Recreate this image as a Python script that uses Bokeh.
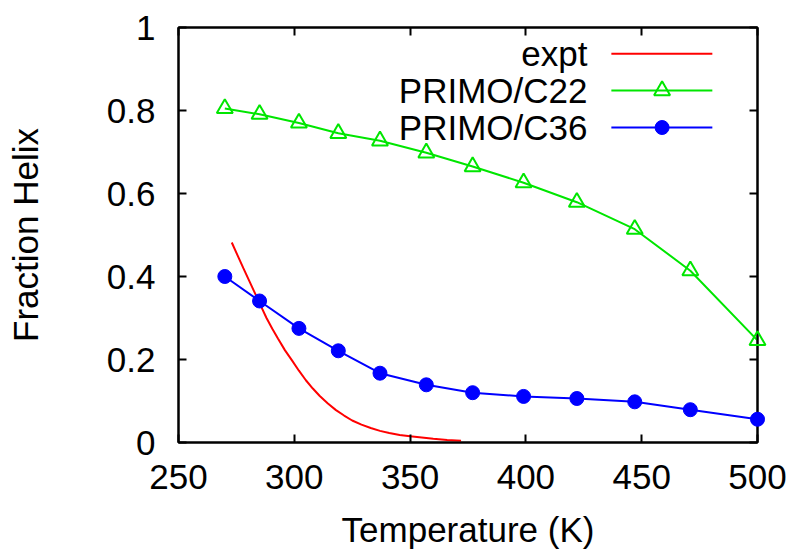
from bokeh.plotting import figure
from bokeh.models import Range1d, LinearAxis, FixedTicker, CustomJSTickFormatter
from bokeh.core.properties import value
from bokeh.embed import file_html
from bokeh.resources import INLINE

# ---- data ----
temps = [270, 285, 302, 319, 337, 357, 377, 399, 422, 447, 471, 500]
c22 = [0.805, 0.791, 0.770, 0.745, 0.727, 0.698, 0.665, 0.626, 0.579, 0.514, 0.414, 0.246]
c36 = [0.400, 0.341, 0.275, 0.221, 0.167, 0.139, 0.120, 0.111, 0.106, 0.098, 0.079, 0.056]
expt_t = [273, 275.5, 278, 280.5, 283, 285.5, 288, 290.5, 293, 296, 299, 302, 305, 308, 311,
          314.5, 318, 321.5, 325, 329, 333, 337, 341, 345.5, 350, 355, 360, 366, 372]
expt_f = [0.482, 0.451, 0.42, 0.39, 0.36, 0.33, 0.30, 0.274, 0.25, 0.222, 0.198, 0.173, 0.15,
          0.13, 0.112, 0.094, 0.078, 0.065, 0.053, 0.043, 0.035, 0.028, 0.023, 0.018, 0.015,
          0.012, 0.009, 0.006, 0.004]
x_ticks = [250, 300, 350, 400, 450, 500]
y_ticks = [0, 0.2, 0.4, 0.6, 0.8, 1]
series_names = ["expt", "PRIMO/C22", "PRIMO/C36"]

RED, GREEN, BLUE = "#ff0000", "#00e600", "#0000ff"
FONT = value("Liberation Sans")
FS = "35px"

p = figure(width=793, height=555, output_backend="svg", toolbar_location=None,
           x_range=Range1d(250, 500), y_range=Range1d(0, 1),
           min_border_left=178, min_border_right=36, min_border_top=27, min_border_bottom=113)
p.background_fill_color = "white"
p.border_fill_color = "white"
p.grid.visible = False
p.outline_line_color = "black"
p.outline_line_width = 2

fmt = CustomJSTickFormatter(code="return (Math.round(tick*10)/10).toString();")
blank = CustomJSTickFormatter(code="return '';")

def style_axis(ax, ticks, formatter):
    ax.ticker = FixedTicker(ticks=ticks)
    ax.formatter = formatter
    ax.minor_tick_line_color = None
    ax.major_tick_in = 8
    ax.major_tick_out = 0
    ax.major_tick_line_width = 2
    ax.axis_line_width = 2
    ax.axis_line_color = "black"
    ax.major_label_text_font = "Liberation Sans"
    ax.major_label_text_font_size = FS
    ax.major_label_text_color = "black"

style_axis(p.xaxis[0], x_ticks, fmt)
style_axis(p.yaxis[0], y_ticks, fmt)
p.xaxis[0].major_label_standoff = 22
p.yaxis[0].major_label_standoff = 23
p.xaxis.axis_label = "Temperature (K)"
p.yaxis.axis_label = "Fraction Helix"
for ax in (p.xaxis[0], p.yaxis[0]):
    ax.axis_label_text_font = "Liberation Sans"
    ax.axis_label_text_font_size = FS
    ax.axis_label_text_font_style = "normal"
    ax.axis_label_text_color = "black"
p.xaxis[0].axis_label_standoff = 18
p.yaxis[0].axis_label_standoff = 59

top = LinearAxis()
style_axis(top, x_ticks, blank)
top.major_label_standoff = 0
right = LinearAxis()
style_axis(right, y_ticks, blank)
right.major_label_standoff = 0
p.add_layout(top, "above")
p.add_layout(right, "right")

# ---- series ----
p.line(expt_t, expt_f, line_color=RED, line_width=2)
p.line(temps, c22, line_color=GREEN, line_width=2)
p.scatter(temps, c22, marker="triangle", size=16, fill_color=None, line_color=GREEN,
          line_width=2, level="overlay")
p.line(temps, c36, line_color=BLUE, line_width=2)
p.scatter(temps, c36, marker="circle", size=14, fill_color=BLUE, line_color=BLUE,
          level="overlay")

# ---- legend (key on the right of right-aligned labels) ----
leg_text_x = 426.6
leg_x0, leg_x1, leg_xm = 436.9, 480.5, 458.8
leg_y = [0.937, 0.848, 0.759]
p.text(x=[leg_text_x] * 3, y=leg_y, text=series_names, text_align="right",
       text_baseline="middle", text_font=FONT, text_font_size=FS, text_color="black")
for yy, col in zip(leg_y, [RED, GREEN, BLUE]):
    p.line([leg_x0, leg_x1], [yy, yy], line_color=col, line_width=2)
p.scatter([leg_xm], [leg_y[1]], marker="triangle", size=16, fill_color=None,
          line_color=GREEN, line_width=2)
p.scatter([leg_xm], [leg_y[2]], marker="circle", size=14, fill_color=BLUE, line_color=BLUE)

open("out.html", "w").write(file_html(p, INLINE))
